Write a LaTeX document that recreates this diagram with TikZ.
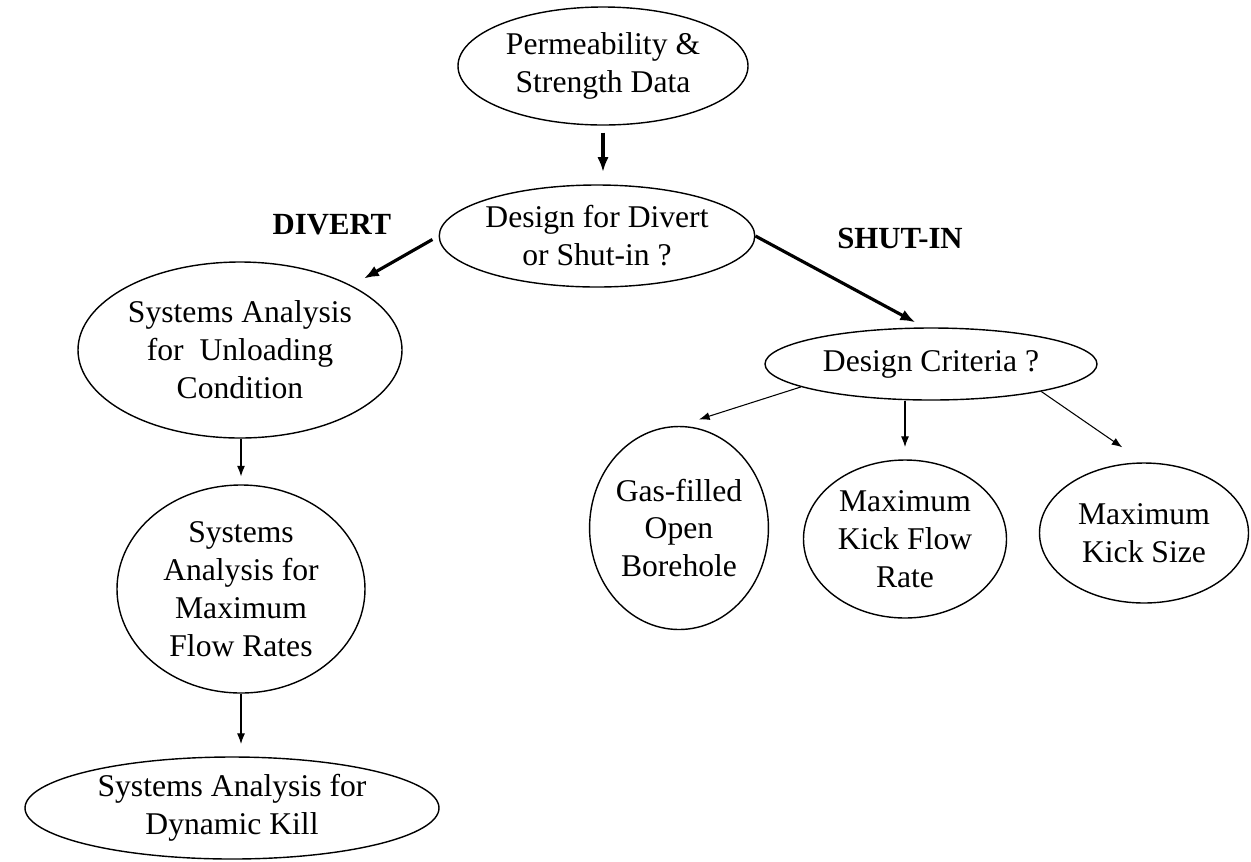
\documentclass[tikz,border=0pt]{standalone}
\usepackage{fontspec}
\setmainfont{Liberation Serif}
\usetikzlibrary{shapes.geometric,arrows.meta}

\begin{document}
\begin{tikzpicture}[
  oval/.style={ellipse,draw,line width=0.8pt,inner sep=0pt,align=center,font=\fontsize{18}{21.6}\selectfont},
  tag/.style={font=\bfseries\fontsize{17.5}{21}\selectfont},
  heavy/.style={->,>={Latex[length=8.5pt,width=6.5pt]},line width=1.8pt},
  light/.style={->,>={Latex[length=6pt,width=4.5pt]},line width=0.6pt}]
\useasboundingbox (0,0) rectangle (25.02,-17.22);

\node[oval,minimum width=5.8cm,minimum height=2.36cm] (perm) at (12.06,-1.32) {Permeability \&\\Strength Data};
\node[oval,minimum width=6.26cm,minimum height=2.04cm] (design) at (11.94,-4.72) {Design for Divert\\or Shut-in ?};
\node[tag] (divert) at (6.64,-4.5) {DIVERT};
\node[tag] (shutin) at (18.0,-4.76) {SHUT-IN};

\node[oval,minimum width=6.48cm,minimum height=3.52cm] (unload) at (4.8,-7.0) {Systems Analysis\\for~~Unloading\\Condition};
\node[oval,minimum width=4.96cm,minimum height=4.16cm] (maxflow) at (4.82,-11.78) {Systems\\Analysis for\\Maximum\\Flow Rates};
\node[oval,minimum width=8.28cm,minimum height=2.04cm] (dynkill) at (4.64,-16.16) {Systems Analysis for\\Dynamic Kill};

\node[oval,minimum width=6.64cm,minimum height=1.44cm] (crit) at (18.62,-7.28) {Design Criteria ?};
\node[oval,minimum width=3.56cm,minimum height=4.06cm] (gas) at (13.58,-10.56) {Gas-filled\\Open\\Borehole};
\node[oval,minimum width=4.06cm,minimum height=3.16cm] (kickflow) at (18.1,-10.78) {Maximum\\Kick Flow\\Rate};
\node[oval,minimum width=4.18cm,minimum height=2.8cm] (kicksize) at (22.88,-10.66) {Maximum\\Kick Size};

% main branches
\draw[heavy,shorten <=4pt,shorten >=7pt] (perm.south) -- (perm.south |- design.north);
\draw[heavy,shorten <=4pt,shorten >=8pt] (design.west) -- (unload.30);
\draw[heavy,shorten >=6pt] (design.east) -- (crit.100);

% divert column
\draw[light,shorten >=4.5pt] (maxflow.north |- unload.south) -- (maxflow.north);
\draw[light,shorten >=7pt] (maxflow.south) -- (maxflow.south |- dynkill.north);

% shut-in criteria
\draw[light,shorten >=12pt] (crit.190) -- (gas.north);
\draw[light,shorten >=7pt] (kickflow.north |- crit.south) -- (kickflow.north);
\draw[light,shorten >=15pt] (crit.346) -- (kicksize.north);
\end{tikzpicture}
\end{document}
